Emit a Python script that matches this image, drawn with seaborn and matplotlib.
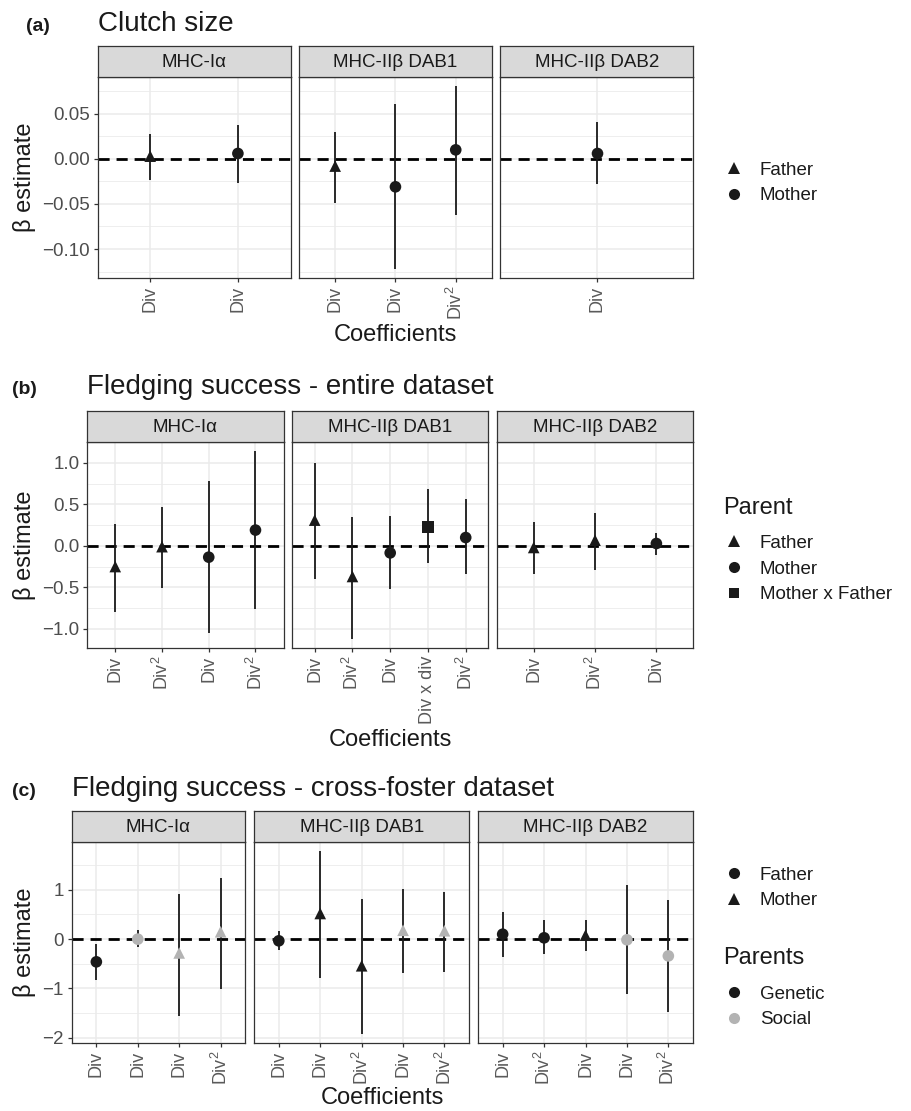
import numpy as np
import pandas as pd
import matplotlib
matplotlib.use("Agg")
import matplotlib.pyplot as plt
import seaborn as sns
from matplotlib.lines import Line2D
from matplotlib.ticker import AutoMinorLocator

# -------------------------------
# Data
# -------------------------------
facets = ["MHC-Iα", "MHC-IIβ DAB1", "MHC-IIβ DAB2"]

# (a) Clutch size
a_facet = ["MHC-Iα", "MHC-Iα", "MHC-IIβ DAB1", "MHC-IIβ DAB1", "MHC-IIβ DAB1", "MHC-IIβ DAB2"]
a_coef = ["Div", "Div", "Div", "Div", "Div$^2$", "Div"]
a_parent = ["Father", "Mother", "Father", "Mother", "Mother", "Mother"]
a_est = [0.003, 0.006, -0.008, -0.031, 0.010, 0.006]
a_lo = [-0.023, -0.027, -0.049, -0.122, -0.062, -0.028]
a_hi = [0.028, 0.038, 0.030, 0.061, 0.081, 0.041]
a_yticks = [-0.10, -0.05, 0.00, 0.05]

# (b) Fledging success - entire dataset
b_facet = ["MHC-Iα"] * 4 + ["MHC-IIβ DAB1"] * 5 + ["MHC-IIβ DAB2"] * 3
b_coef = ["Div", "Div$^2$", "Div", "Div$^2$",
          "Div", "Div$^2$", "Div", "Div x div", "Div$^2$",
          "Div", "Div$^2$", "Div"]
b_parent = ["Father", "Father", "Mother", "Mother",
            "Father", "Father", "Mother", "Mother x Father", "Mother",
            "Father", "Father", "Mother"]
b_est = [-0.25, -0.01, -0.137, 0.19, 0.31, -0.37, -0.085, 0.23, 0.10, -0.02, 0.068, 0.028]
b_lo = [-0.795, -0.51, -1.05, -0.76, -0.40, -1.12, -0.52, -0.205, -0.345, -0.34, -0.29, -0.105]
b_hi = [0.26, 0.47, 0.78, 1.14, 1.00, 0.35, 0.36, 0.68, 0.56, 0.29, 0.40, 0.16]
b_yticks = [-1.0, -0.5, 0.0, 0.5, 1.0]

# (c) Fledging success - cross-foster dataset
c_facet = ["MHC-Iα"] * 4 + ["MHC-IIβ DAB1"] * 5 + ["MHC-IIβ DAB2"] * 5
c_coef = ["Div", "Div", "Div", "Div$^2$",
          "Div", "Div", "Div$^2$", "Div", "Div$^2$",
          "Div", "Div$^2$", "Div", "Div", "Div$^2$"]
c_parent = ["Father", "Father", "Mother", "Mother",
            "Father", "Mother", "Mother", "Mother", "Mother",
            "Father", "Father", "Mother", "Father", "Father"]
c_type = ["Genetic", "Social", "Social", "Social",
          "Genetic", "Genetic", "Genetic", "Social", "Social",
          "Genetic", "Genetic", "Genetic", "Social", "Social"]
c_est = [-0.46, 0.0, -0.28, 0.15, -0.034, 0.52, -0.54, 0.18, 0.17, 0.10, 0.027, 0.08, -0.013, -0.34]
c_lo = [-0.83, -0.155, -1.56, -1.02, -0.21, -0.78, -1.92, -0.69, -0.66, -0.37, -0.31, -0.24, -1.12, -1.47]
c_hi = [-0.09, 0.18, 0.91, 1.23, 0.16, 1.79, 0.82, 1.01, 0.96, 0.56, 0.38, 0.38, 1.09, 0.80]
c_yticks = [-2, -1, 0, 1]

a_df = pd.DataFrame({"facet": a_facet, "coef": a_coef, "parent": a_parent,
                     "est": a_est, "lo": a_lo, "hi": a_hi, "type": "Genetic"})
b_df = pd.DataFrame({"facet": b_facet, "coef": b_coef, "parent": b_parent,
                     "est": b_est, "lo": b_lo, "hi": b_hi, "type": "Genetic"})
c_df = pd.DataFrame({"facet": c_facet, "coef": c_coef, "parent": c_parent,
                     "est": c_est, "lo": c_lo, "hi": c_hi, "type": c_type})

# -------------------------------
# Style
# -------------------------------
sns.set_theme(style="white")
plt.rcParams['font.family'] = ['Liberation Sans', 'DejaVu Sans']
plt.rcParams['mathtext.default'] = 'regular'

DARK = "#1a1a1a"
GREY = "#b3b3b3"
GRID = "#ebebeb"
BORDER = "#333333"
W, H = 911, 1111

fig = plt.figure(figsize=(W / 100, H / 100), dpi=100)


def box(l, r, t, b):
    return [l / W, 1 - b / H, (r - l) / W, (b - t) / H]


def panel_x(df, left, right, free_space, gap=8.5):
    counts = [int((df.facet == f).sum()) for f in facets]
    if free_space:
        ratios = [n + 0.2 for n in counts]
    else:
        ratios = [1, 1, 1]
    avail = right - left - gap * 2
    xs, x = [], left
    for r in ratios:
        w = avail * r / sum(ratios)
        xs.append((x, x + w))
        x += w + gap
    return xs


def draw_row(df, markers, palette, left, right, free_space, strip_top, top, bottom,
             yticks, ydec, tag, tag_x, title, title_y, xlab_y):
    lo_all, hi_all = df.lo.min(), df.hi.max()
    pad = 0.05 * (hi_all - lo_all)
    ylim = (lo_all - pad, hi_all + pad)
    xs = panel_x(df, left, right, free_space)
    for i, f in enumerate(facets):
        sub = df[df.facet == f].reset_index(drop=True)
        sub["pos"] = np.arange(len(sub))
        l, r = xs[i]
        ax = fig.add_axes(box(l, r, top, bottom))
        ax.axhline(0, color="black", lw=2.0, ls=(0, (4, 2.5)), zorder=2)
        ax.vlines(sub.pos, sub.lo, sub.hi, color=DARK, lw=1.3, zorder=3)
        if palette is None:
            sns.scatterplot(data=sub, x="pos", y="est", style="parent", markers=markers,
                            color=DARK, s=70, linewidth=0, legend=False, ax=ax, zorder=4)
        else:
            sns.scatterplot(data=sub, x="pos", y="est", style="parent", markers=markers,
                            hue="type", palette=palette, s=70, linewidth=0, legend=False,
                            ax=ax, zorder=4)
        ax.set_xlabel("")
        ax.set_ylabel("")
        ax.set_xlim(-0.6, len(sub) - 0.4)
        ax.set_ylim(*ylim)
        ax.set_xticks(sub.pos)
        ax.set_xticklabels(sub.coef, rotation=90, fontsize=13, color="#5a5a5a")
        ax.set_yticks(yticks)
        ax.set_yticklabels([f"{v:.{ydec}f}".replace("-", "\u2212") for v in yticks],
                           fontsize=13.5, color="#4d4d4d")
        ax.yaxis.set_minor_locator(AutoMinorLocator(2))
        ax.grid(True, which="major", color=GRID, lw=1.1, zorder=0)
        ax.grid(True, which="minor", axis="y", color=GRID, lw=0.6, zorder=0)
        ax.set_axisbelow(True)
        ax.tick_params(axis="both", which="major", bottom=True, left=(i == 0),
                       labelleft=(i == 0), length=3, width=0.9, color=BORDER, pad=2.5)
        ax.tick_params(axis="y", which="minor", left=False, length=0)
        for s in ax.spines.values():
            s.set_color(BORDER)
            s.set_linewidth(0.9)

        sax = fig.add_axes(box(l, r, strip_top, top))
        sax.set_facecolor("#d9d9d9")
        sax.set_xticks([])
        sax.set_yticks([])
        for s in sax.spines.values():
            s.set_color(BORDER)
            s.set_linewidth(0.9)
        sax.text(0.5, 0.47, f, ha="center", va="center", fontsize=13.5, color=DARK,
                 transform=sax.transAxes)

    fig.text(tag_x / W, 1 - title_y / H, tag, fontsize=14, fontweight="bold",
             color=DARK, va="baseline", ha="left")
    fig.text(left / W, 1 - title_y / H, title, fontsize=20, color=DARK,
             va="baseline", ha="left")
    fig.text(24 / W, 1 - (top + bottom) / 2 / H, "β estimate", rotation=90,
             fontsize=17, color=DARK, ha="center", va="center")
    fig.text((left + right) / 2 / W, 1 - xlab_y / H, "Coefficients", fontsize=17,
             color=DARK, ha="center", va="center")


def add_legend(handles, labels, x, y, title=None, title_y=None):
    leg = fig.legend(handles, labels, loc="center left", bbox_to_anchor=(x / W, 1 - y / H),
                     frameon=False, fontsize=13.5, handlelength=1.0, handletextpad=0.85,
                     labelspacing=0.46, borderpad=0, borderaxespad=0)
    for t in leg.get_texts():
        t.set_color(DARK)
    if title:
        fig.text((x - 2) / W, 1 - title_y / H, title, fontsize=17, color=DARK,
                 ha="left", va="center")
    return leg


def key(marker, color=DARK, ms=8.0):
    return Line2D([], [], ls="", marker=marker, color=color, markersize=ms, markeredgewidth=0)


# -------------------------------
# (a)
# -------------------------------
draw_row(a_df, {"Father": "^", "Mother": "o"}, None, 97.6, 693.3, False,
         45.7, 76.7, 278, a_yticks, 2, "(a)", 26, "Clutch size", 31, 335)
add_legend([key("^", ms=9), key("o")], ["Father", "Mother"], 725, 183)

# -------------------------------
# (b)
# -------------------------------
draw_row(b_df, {"Father": "^", "Mother": "o", "Mother x Father": "s"}, None,
         87.2, 693.2, False, 411, 442, 648, b_yticks, 1, "(b)", 12,
         "Fledging success - entire dataset", 394, 740.5)
add_legend([key("^", ms=9), key("o"), key("s", ms=7)],
           ["Father", "Mother", "Mother x Father"], 725, 569,
           title="Parent", title_y=508)

# -------------------------------
# (c)
# -------------------------------
draw_row(c_df, {"Father": "o", "Mother": "^"}, {"Genetic": DARK, "Social": GREY},
         71.5, 693.2, True, 810.7, 841.7, 1043, c_yticks, 0, "(c)", 12,
         "Fledging success - cross-foster dataset", 796, 1098.5)
add_legend([key("o"), key("^", ms=9)], ["Father", "Mother"], 725, 888)
add_legend([key("o"), key("o", color=GREY)], ["Genetic", "Social"], 725, 1007,
           title="Parents", title_y=958)

fig.savefig("out.png", dpi=100)
